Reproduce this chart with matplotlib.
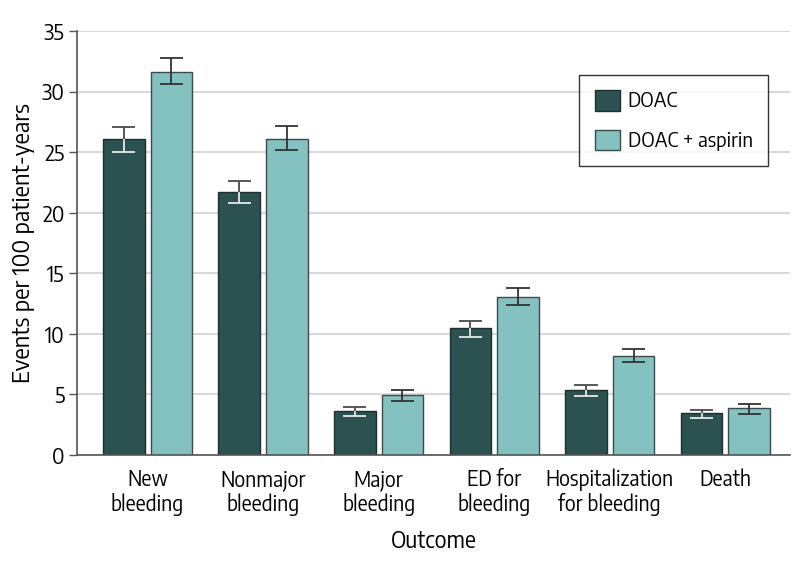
import matplotlib
matplotlib.use("Agg")
import matplotlib.pyplot as plt
import numpy as np
from matplotlib.patches import Patch

categories = ["New\nbleeding", "Nonmajor\nbleeding", "Major\nbleeding", "ED for\nbleeding",
              "Hospitalization\nfor bleeding", "Death"]
series_names = ["DOAC", "DOAC + aspirin"]
doac = [26.1, 21.7, 3.63, 10.46, 5.37, 3.44]
doac_lo = [25.0, 20.8, 3.2, 9.77, 4.9, 3.03]
doac_hi = [27.1, 22.6, 4.0, 11.07, 5.8, 3.74]
asp = [31.6, 26.1, 4.95, 13.02, 8.18, 3.85]
asp_lo = [30.6, 25.2, 4.5, 12.36, 7.65, 3.41]
asp_hi = [32.8, 27.2, 5.4, 13.79, 8.75, 4.19]
yticks = [0, 5, 10, 15, 20, 25, 30, 35]

c_dark = "#2b5250"
c_light = "#84c2c1"
plt.rcParams['font.family'] = ['Encode Sans Semi Condensed', 'DejaVu Sans']

fig = plt.figure(figsize=(7.94, 5.67), dpi=100)
ax = fig.add_axes([0.097, 0.1975, 0.898, 0.7475])
x = np.arange(len(categories))
w = 0.36
off = 0.206
ax.bar(x - off, doac, w, color=c_dark, edgecolor="#1e2e2d", linewidth=1.0, zorder=3)
ax.bar(x + off, asp, w, color=c_light, edgecolor="#3d4a4a", linewidth=1.0, zorder=3)

cap = 0.1
# DOAC error bars: upper part dark, lower part light
ax.vlines(x - off, doac, doac_hi, color="#4a4a4a", lw=1.3, zorder=4)
ax.hlines(doac_hi, x - off - cap, x - off + cap, color="#4a4a4a", lw=1.3, zorder=4)
ax.vlines(x - off, doac_lo, doac, color="#e8e8e8", lw=1.3, zorder=4)
ax.hlines(doac_lo, x - off - cap, x - off + cap, color="#e8e8e8", lw=1.3, zorder=4)
# aspirin error bars dark
ax.vlines(x + off, asp_lo, asp_hi, color="#333333", lw=1.3, zorder=4)
ax.hlines(asp_hi, x + off - cap, x + off + cap, color="#333333", lw=1.3, zorder=4)
ax.hlines(asp_lo, x + off - cap, x + off + cap, color="#333333", lw=1.3, zorder=4)

ax.set_xlim(-0.61, 5.56)
ax.set_ylim(0, 35)
ax.set_yticks(yticks)
ax.set_xticks(x)
ax.set_xticklabels(categories, fontsize=15, linespacing=1.1)
ax.tick_params(axis='y', labelsize=15.5, length=6, color="#555555", width=1, pad=3)
ax.tick_params(axis='x', length=0, pad=10)
ax.yaxis.grid(True, color="#d9d9d9", lw=1.5, zorder=0)
ax.set_axisbelow(True)
for s in ["top", "right"]:
    ax.spines[s].set_visible(False)
for s in ["left", "bottom"]:
    ax.spines[s].set_color("#555555")
    ax.spines[s].set_linewidth(1.2)
    ax.spines[s].set_zorder(5)

ax.set_ylabel("Events per 100 patient-years", fontsize=17, labelpad=5)
ax.set_xlabel("Outcome", fontsize=16.5, labelpad=9)

handles = [Patch(facecolor=c_dark, edgecolor="#1e2e2d"), Patch(facecolor=c_light, edgecolor="#3d4a4a")]
leg = ax.legend(handles, series_names, loc="upper right", bbox_to_anchor=(0.969, 0.896),
                fontsize=14.5, frameon=True, fancybox=False, edgecolor="black",
                handlelength=1.25, handleheight=1.2, handletextpad=0.4,
                borderpad=0.75, labelspacing=0.9, borderaxespad=0)
leg.get_frame().set_linewidth(1.0)

fig.savefig("out.png", dpi=100)
